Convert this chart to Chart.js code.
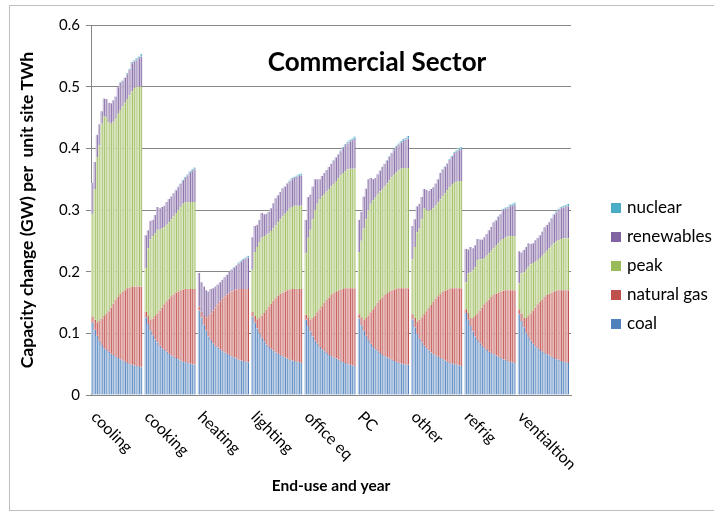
<!DOCTYPE html>
<html>
<head>
<meta charset="utf-8">
<script src="https://cdn.jsdelivr.net/npm/chart.js@4.4.1/dist/chart.umd.min.js"></script>
<style>
  html, body { margin: 0; padding: 0; background: #fff; }
  #wrap { position: relative; width: 714px; height: 522px; }
</style>
</head>
<body>
<div id="wrap"><canvas id="chart" width="714" height="522"></canvas></div>
<script>
// ===================== Data =====================
const END_USES = ["cooling", "cooking", "heating", "lighting", "office eq", "PC", "other", "refrig", "ventialtion"];
const SERIES = ["coal", "natural gas", "peak", "renewables", "nuclear"];
const COLORS = ["#4F81BD", "#C0504D", "#9BBB59", "#8064A2", "#4BACC6"];
const TINTS = ["#B9CDE5", "#E6B9B8", "#D7E4BD", "#CCC1DA", "#B7DEE8"];
const Y_TICKS = [0, 0.1, 0.2, 0.3, 0.4, 0.5, 0.6];
const BARS_PER_GROUP = 22; // one bar per year, then an empty slot

// top edge of each coloured band (stack height), one row per end-use
const coalTop = [
  [0.117, 0.106, 0.096, 0.088, 0.081, 0.076, 0.073, 0.070, 0.067, 0.065, 0.062, 0.060, 0.058, 0.056, 0.054, 0.052, 0.050, 0.049, 0.048, 0.047, 0.046, 0.045],
  [0.126, 0.115, 0.105, 0.097, 0.090, 0.085, 0.080, 0.076, 0.073, 0.070, 0.067, 0.064, 0.062, 0.060, 0.058, 0.056, 0.054, 0.053, 0.052, 0.051, 0.050, 0.049],
  [0.137, 0.126, 0.114, 0.104, 0.095, 0.089, 0.084, 0.080, 0.077, 0.074, 0.071, 0.069, 0.067, 0.065, 0.063, 0.061, 0.059, 0.057, 0.056, 0.055, 0.054, 0.053],
  [0.127, 0.117, 0.108, 0.100, 0.093, 0.087, 0.082, 0.078, 0.075, 0.072, 0.069, 0.067, 0.065, 0.063, 0.061, 0.059, 0.057, 0.056, 0.055, 0.054, 0.053, 0.052],
  [0.122, 0.112, 0.103, 0.095, 0.088, 0.083, 0.078, 0.074, 0.071, 0.068, 0.065, 0.063, 0.061, 0.059, 0.057, 0.055, 0.053, 0.052, 0.050, 0.049, 0.048, 0.047],
  [0.124, 0.113, 0.104, 0.096, 0.089, 0.083, 0.078, 0.074, 0.071, 0.068, 0.065, 0.063, 0.061, 0.059, 0.057, 0.055, 0.054, 0.052, 0.051, 0.050, 0.049, 0.049],
  [0.123, 0.110, 0.099, 0.091, 0.085, 0.080, 0.076, 0.072, 0.069, 0.066, 0.064, 0.062, 0.060, 0.058, 0.056, 0.054, 0.052, 0.051, 0.050, 0.049, 0.048, 0.047],
  [0.133, 0.122, 0.112, 0.103, 0.095, 0.089, 0.084, 0.080, 0.076, 0.073, 0.070, 0.068, 0.066, 0.064, 0.062, 0.060, 0.058, 0.057, 0.055, 0.054, 0.053, 0.052],
  [0.131, 0.120, 0.110, 0.101, 0.094, 0.088, 0.083, 0.079, 0.076, 0.073, 0.070, 0.068, 0.066, 0.064, 0.062, 0.060, 0.058, 0.057, 0.055, 0.054, 0.053, 0.052],
];

const gasTop = [
  [0.127, 0.122, 0.118, 0.120, 0.124, 0.128, 0.132, 0.136, 0.142, 0.148, 0.154, 0.159, 0.164, 0.167, 0.170, 0.173, 0.174, 0.175, 0.176, 0.176, 0.176, 0.176],
  [0.135, 0.128, 0.122, 0.124, 0.128, 0.132, 0.137, 0.142, 0.147, 0.152, 0.156, 0.160, 0.163, 0.166, 0.168, 0.170, 0.171, 0.172, 0.172, 0.172, 0.172, 0.172],
  [0.143, 0.135, 0.128, 0.126, 0.128, 0.132, 0.137, 0.142, 0.147, 0.152, 0.156, 0.160, 0.163, 0.166, 0.168, 0.170, 0.171, 0.172, 0.172, 0.172, 0.172, 0.172],
  [0.135, 0.128, 0.123, 0.125, 0.129, 0.133, 0.138, 0.143, 0.148, 0.153, 0.157, 0.161, 0.164, 0.166, 0.168, 0.170, 0.171, 0.172, 0.172, 0.172, 0.172, 0.172],
  [0.130, 0.126, 0.122, 0.125, 0.129, 0.134, 0.139, 0.144, 0.149, 0.154, 0.158, 0.162, 0.165, 0.167, 0.169, 0.171, 0.172, 0.173, 0.173, 0.173, 0.173, 0.173],
  [0.131, 0.126, 0.122, 0.125, 0.129, 0.134, 0.139, 0.144, 0.149, 0.154, 0.158, 0.162, 0.165, 0.167, 0.169, 0.171, 0.172, 0.173, 0.173, 0.173, 0.173, 0.173],
  [0.131, 0.125, 0.119, 0.122, 0.126, 0.131, 0.136, 0.141, 0.146, 0.151, 0.156, 0.160, 0.164, 0.167, 0.169, 0.171, 0.172, 0.173, 0.173, 0.173, 0.173, 0.173],
  [0.139, 0.133, 0.125, 0.125, 0.128, 0.132, 0.137, 0.142, 0.147, 0.151, 0.155, 0.159, 0.162, 0.164, 0.166, 0.168, 0.169, 0.170, 0.170, 0.170, 0.170, 0.170],
  [0.139, 0.132, 0.125, 0.125, 0.128, 0.132, 0.137, 0.142, 0.147, 0.151, 0.155, 0.159, 0.162, 0.164, 0.166, 0.168, 0.169, 0.170, 0.170, 0.170, 0.170, 0.170],
];

const peakTop = [
  [0.294, 0.334, 0.386, 0.405, 0.440, 0.452, 0.450, 0.442, 0.440, 0.443, 0.448, 0.456, 0.462, 0.468, 0.474, 0.480, 0.486, 0.492, 0.498, 0.500, 0.500, 0.500],
  [0.206, 0.238, 0.252, 0.258, 0.262, 0.268, 0.268, 0.270, 0.272, 0.276, 0.280, 0.285, 0.290, 0.295, 0.300, 0.305, 0.310, 0.312, 0.313, 0.313, 0.313, 0.313],
  [0.143, 0.135, 0.128, 0.126, 0.128, 0.132, 0.137, 0.142, 0.147, 0.152, 0.156, 0.160, 0.163, 0.166, 0.168, 0.170, 0.171, 0.172, 0.172, 0.172, 0.172, 0.172],
  [0.203, 0.232, 0.240, 0.248, 0.255, 0.258, 0.260, 0.262, 0.266, 0.270, 0.275, 0.280, 0.285, 0.290, 0.294, 0.298, 0.302, 0.305, 0.307, 0.307, 0.307, 0.307],
  [0.230, 0.255, 0.268, 0.285, 0.300, 0.310, 0.318, 0.322, 0.326, 0.330, 0.334, 0.338, 0.342, 0.347, 0.352, 0.356, 0.360, 0.363, 0.366, 0.367, 0.367, 0.367],
  [0.232, 0.250, 0.270, 0.285, 0.300, 0.310, 0.316, 0.320, 0.325, 0.330, 0.334, 0.338, 0.343, 0.348, 0.353, 0.357, 0.361, 0.364, 0.367, 0.368, 0.368, 0.368],
  [0.220, 0.240, 0.264, 0.270, 0.285, 0.303, 0.300, 0.298, 0.300, 0.303, 0.307, 0.312, 0.317, 0.322, 0.327, 0.332, 0.337, 0.341, 0.344, 0.346, 0.347, 0.347],
  [0.183, 0.197, 0.199, 0.202, 0.207, 0.219, 0.220, 0.220, 0.222, 0.226, 0.230, 0.234, 0.238, 0.242, 0.246, 0.250, 0.253, 0.255, 0.257, 0.258, 0.258, 0.258],
  [0.181, 0.197, 0.199, 0.203, 0.208, 0.212, 0.214, 0.216, 0.219, 0.222, 0.226, 0.230, 0.234, 0.238, 0.242, 0.246, 0.249, 0.251, 0.253, 0.254, 0.254, 0.254],
];

const renewTop = [
  [0.344, 0.378, 0.422, 0.439, 0.460, 0.481, 0.480, 0.474, 0.473, 0.478, 0.484, 0.499, 0.506, 0.509, 0.514, 0.520, 0.527, 0.538, 0.541, 0.543, 0.546, 0.549],
  [0.259, 0.267, 0.282, 0.284, 0.292, 0.305, 0.303, 0.305, 0.307, 0.313, 0.318, 0.322, 0.327, 0.332, 0.337, 0.342, 0.347, 0.352, 0.356, 0.360, 0.363, 0.366],
  [0.198, 0.183, 0.176, 0.170, 0.168, 0.172, 0.173, 0.176, 0.179, 0.183, 0.187, 0.191, 0.195, 0.200, 0.203, 0.206, 0.210, 0.213, 0.216, 0.219, 0.221, 0.223],
  [0.256, 0.274, 0.276, 0.284, 0.295, 0.293, 0.294, 0.297, 0.303, 0.311, 0.319, 0.324, 0.329, 0.335, 0.338, 0.343, 0.346, 0.350, 0.352, 0.354, 0.355, 0.356],
  [0.284, 0.321, 0.325, 0.338, 0.350, 0.350, 0.350, 0.355, 0.360, 0.365, 0.370, 0.375, 0.380, 0.385, 0.390, 0.395, 0.400, 0.405, 0.408, 0.411, 0.413, 0.415],
  [0.284, 0.297, 0.322, 0.335, 0.350, 0.352, 0.350, 0.352, 0.358, 0.364, 0.370, 0.375, 0.380, 0.386, 0.392, 0.397, 0.402, 0.406, 0.409, 0.412, 0.414, 0.416],
  [0.274, 0.285, 0.306, 0.310, 0.321, 0.334, 0.333, 0.331, 0.334, 0.337, 0.343, 0.350, 0.360, 0.365, 0.370, 0.375, 0.381, 0.386, 0.392, 0.394, 0.397, 0.399],
  [0.237, 0.236, 0.240, 0.238, 0.243, 0.253, 0.252, 0.252, 0.256, 0.261, 0.267, 0.273, 0.280, 0.283, 0.289, 0.293, 0.300, 0.302, 0.303, 0.306, 0.307, 0.308],
  [0.233, 0.231, 0.235, 0.240, 0.246, 0.245, 0.246, 0.251, 0.255, 0.259, 0.265, 0.272, 0.276, 0.280, 0.286, 0.292, 0.296, 0.300, 0.303, 0.304, 0.305, 0.306],
];

// nuclear is a thin cap on the later bars
const nuclear = [
  [0, 0, 0, 0, 0, 0, 0, 0, 0, 0, 0, 0, 0.001, 0.001, 0.001, 0.002, 0.002, 0.002, 0.002, 0.003, 0.003, 0.004],
  [0, 0, 0, 0, 0, 0, 0, 0, 0, 0, 0, 0, 0, 0.001, 0.001, 0.001, 0.002, 0.002, 0.002, 0.003, 0.003, 0.003],
  [0, 0, 0, 0, 0, 0, 0, 0, 0, 0, 0, 0, 0, 0, 0.001, 0.001, 0.001, 0.002, 0.002, 0.002, 0.002, 0.003],
  [0, 0, 0, 0, 0, 0, 0, 0, 0, 0, 0, 0, 0, 0.001, 0.001, 0.001, 0.002, 0.002, 0.002, 0.002, 0.003, 0.003],
  [0, 0, 0, 0, 0, 0, 0, 0, 0, 0, 0, 0, 0.001, 0.001, 0.001, 0.002, 0.002, 0.002, 0.003, 0.003, 0.003, 0.004],
  [0, 0, 0, 0, 0, 0, 0, 0, 0, 0, 0, 0, 0.001, 0.001, 0.001, 0.002, 0.002, 0.002, 0.003, 0.003, 0.003, 0.004],
  [0, 0, 0, 0, 0, 0, 0, 0, 0, 0, 0, 0, 0, 0.001, 0.001, 0.001, 0.002, 0.002, 0.002, 0.003, 0.003, 0.003],
  [0, 0, 0, 0, 0, 0, 0, 0, 0, 0, 0, 0, 0, 0.001, 0.001, 0.001, 0.002, 0.002, 0.002, 0.003, 0.003, 0.004],
  [0, 0, 0, 0, 0, 0, 0, 0, 0, 0, 0, 0, 0, 0.001, 0.001, 0.001, 0.002, 0.002, 0.002, 0.003, 0.003, 0.004],
];

// ===================== Helpers =====================
const SLOT = BARS_PER_GROUP + 1;

// band thickness = upper edge - lower edge, groups joined with an empty slot
function band(upper, lower) {
  const out = [];
  upper.forEach((row, g) => {
    row.forEach((v, k) => {
      const base = lower ? lower[g][k] : 0;
      out.push(Math.max(0, +(v - base).toFixed(4)));
    });
    out.push(null);
  });
  return out;
}

const labels = [];
END_USES.forEach((name) => {
  for (let k = 0; k < SLOT; k++) labels.push(k === 0 ? name : "");
});

const bands = [
  band(coalTop),
  band(gasTop, coalTop),
  band(peakTop, gasTop),
  band(renewTop, peakTop),
  band(nuclear),
];

// ===================== Decorations =====================
const decor = {
  id: "decor",
  beforeDraw(chart) {
    const ctx = chart.ctx;
    ctx.save();
    ctx.strokeStyle = "#bfbfbf";
    ctx.lineWidth = 1;
    ctx.strokeRect(9.5, 5.5, 760, 505);
    ctx.restore();
  },
  afterDraw(chart) {
    const { ctx, scales: { x }, chartArea } = chart;
    ctx.save();
    ctx.fillStyle = "#000";

    // overlay title
    ctx.font = "bold 26px Lato";
    ctx.textAlign = "center";
    ctx.textBaseline = "middle";
    ctx.fillText("Commercial Sector", 377, 63);

    // end-use labels, slanted down to the right
    ctx.font = "16px Lato";
    ctx.textAlign = "left";
    ctx.textBaseline = "alphabetic";
    END_USES.forEach((name, g) => {
      const px = x.getPixelForValue(g * SLOT);
      ctx.save();
      ctx.translate(px - 2, chartArea.bottom + 23);
      ctx.rotate(Math.PI / 4);
      ctx.fillText(name, 0, 0);
      ctx.restore();
    });

    // legend, top entry = top of the stack
    ctx.font = "17px Lato";
    ctx.textBaseline = "middle";
    for (let i = SERIES.length - 1, row = 0; i >= 0; i--, row++) {
      const y = 203 + row * 29;
      ctx.fillStyle = COLORS[i];
      ctx.fillRect(611, y, 10, 10);
      ctx.fillStyle = "#000";
      ctx.fillText(SERIES[i], 627, y + 5);
    }
    ctx.restore();
  },
};

// ===================== Chart =====================
new Chart(document.getElementById("chart"), {
  type: "bar",
  data: {
    labels: labels,
    datasets: SERIES.map((name, i) => ({
      label: name,
      data: bands[i],
      backgroundColor: TINTS[i],
      borderColor: COLORS[i],
      borderWidth: { top: 0, right: 1, bottom: 0, left: 0 },
      borderSkipped: false,
      barPercentage: 1,
      categoryPercentage: 1,
    })),
  },
  options: {
    responsive: false,
    animation: false,
    layout: { padding: { top: 25, right: 143, bottom: 0, left: 0 } },
    plugins: {
      legend: { display: false },
      tooltip: { enabled: false },
      title: { display: false },
    },
    scales: {
      x: {
        stacked: true,
        offset: true,
        grid: { display: false, drawTicks: false },
        border: { display: true, color: "#868686" },
        ticks: { display: false },
        title: {
          display: true,
          text: "End-use and year",
          color: "#000",
          font: { family: "Lato", size: 15.5, weight: "bold" },
          padding: { top: 4, bottom: 27 },
        },
        afterFit: (scale) => { scale.height = 127; },
      },
      y: {
        stacked: true,
        min: 0,
        max: 0.6,
        afterBuildTicks: (scale) => { scale.ticks = Y_TICKS.map((v) => ({ value: v })); },
        ticks: {
          color: "#000",
          font: { family: "Lato", size: 15 },
          padding: 6,
          callback: (v) => String(+v.toFixed(1)),
        },
        grid: { color: "#868686", tickLength: 5 },
        border: { display: true, color: "#868686" },
        title: {
          display: true,
          text: "Capacity change (GW) per  unit site TWh",
          color: "#000",
          font: { family: "Lato", size: 17.5, weight: "bold" },
          padding: { top: 17, bottom: 0 },
        },
        afterFit: (scale) => { scale.width = 91; },
      },
    },
  },
  plugins: [decor],
});
</script>
</body>
</html>
